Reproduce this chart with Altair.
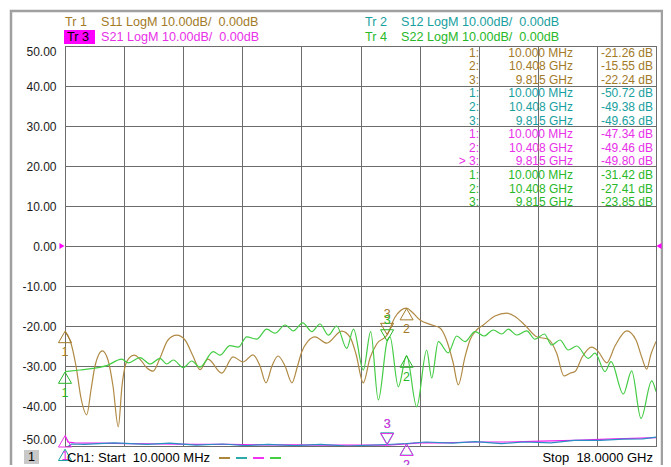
import altair as alt
import pandas as pd

FONT = "Liberation Sans"
NB = "\u00a0"

# ---------------- data (GHz, dB) ----------------
s11_f = [0.01, 0.162, 0.345, 0.497, 0.671, 0.801, 0.923, 1.145, 1.319, 1.471, 1.632, 1.745, 1.888,
         2.116, 2.293, 2.506, 2.689, 2.902, 3.145, 3.410, 3.663, 3.906, 4.119, 4.363, 4.780, 5.124,
         5.428, 5.733, 5.946, 6.128, 6.311, 6.494, 6.707, 6.920, 7.072, 7.215, 7.407, 7.620, 7.976,
         8.433, 8.686, 8.868, 9.090, 9.294, 9.498, 9.815, 10.055, 10.408, 10.573, 10.816, 11.120,
         11.425, 11.600, 11.820, 11.982, 12.186, 12.338, 12.540, 12.743, 13.099, 13.455, 13.708,
         14.012, 14.368, 14.721, 14.977, 15.200, 15.382, 15.534, 15.757, 16.043, 16.244, 16.500,
         16.752, 17.108, 17.391, 17.574, 17.717, 17.848, 18.0]
s11_db = [-21.26, -23.5, -30.0, -38.0, -42.2, -36.0, -30.0, -26.2, -28.5, -35.0, -45.2, -35.0, -28.9,
          -27.3, -28.3, -30.5, -31.3, -28.0, -23.5, -22.3, -23.5, -27.5, -30.9, -28.3, -31.8, -27.7,
          -29.0, -27.2, -30.0, -34.2, -30.0, -27.5, -30.0, -34.2, -30.5, -26.5, -23.8, -22.7, -24.3,
          -21.3, -22.8, -27.0, -34.2, -28.0, -24.5, -22.24, -17.8, -15.55, -16.5, -18.5, -19.6,
          -20.5, -23.0, -29.0, -34.7, -27.7, -23.5, -21.0, -19.75, -17.5, -16.8, -17.6,
          -19.8, -22.7, -23.3, -26.8, -32.5, -31.8, -31.4, -27.7, -25.3, -26.4, -29.2,
          -25.0, -21.2, -23.5, -28.0, -30.8, -27.0, -23.9]

s22_f = [0.01, 0.467, 0.862, 1.279, 1.736, 1.937, 2.293, 2.597, 2.902, 3.106, 3.307, 3.611, 3.867,
         4.119, 4.524, 4.728, 5.032, 5.285, 5.541, 5.845, 6.150, 6.402, 6.707, 6.959, 7.246, 7.520,
         7.772, 8.025, 8.281, 8.585, 8.792, 9.090, 9.315, 9.547, 9.815, 9.903, 10.156, 10.408,
         10.716, 11.020, 11.172, 11.373, 11.677, 11.933, 12.186, 12.490, 12.764, 13.047, 13.303,
         13.504, 13.759, 14.064, 14.317, 14.600, 14.825, 15.078, 15.330, 15.586, 15.939, 16.143,
         16.448, 16.630, 17.005, 17.260, 17.543, 17.869, 18.0]
s22_db = [-31.42, -31.0, -30.6, -29.9, -28.3, -29.2, -27.9, -29.5, -28.1, -29.5, -28.5, -30.4, -28.75,
          -30.3, -26.4, -27.3, -24.9, -25.3, -22.7, -23.3, -20.8, -21.8, -19.75, -21.2, -19.2, -21.4,
          -19.5, -22.3, -20.0, -25.6, -20.8, -31.0, -21.4, -38.5, -23.85, -22.7, -35.2, -27.41,
          -40.2, -26.0, -33.0, -23.9, -26.7, -22.5, -23.9, -21.4, -22.5, -21.0, -22.0,
          -20.8, -22.25, -21.2, -23.3, -22.0, -24.75, -23.5, -26.0, -25.0, -28.1, -26.8,
          -31.4, -28.9, -37.0, -31.2, -43.1, -33.7, -36.4]

s21_f = [0.01, 0.1, 0.3, 1.0, 2.0, 3.0, 4.0, 5.0, 6.0, 7.0, 8.0, 9.0, 9.815, 10.408, 10.8, 11.5,
         12.5, 13.5, 14.5, 15.5, 16.5, 17.3, 18.0]
s21_db = [-47.34, -49.0, -49.2, -49.3, -49.4, -49.5, -49.6, -49.6, -49.7, -49.7, -49.8, -49.8, -49.80,
          -49.46, -49.2, -49.2, -49.0, -49.0, -48.8, -48.6, -48.3, -48.1, -47.9]

s12_f = [0.01, 0.2, 0.6, 1.5, 2.5, 3.2, 4.0, 4.8, 5.5, 6.2, 7.0, 7.8, 8.6, 9.815, 10.408, 11.0, 11.8,
         12.5, 13.3, 14.0, 14.8, 15.5, 16.3, 17.0, 17.6, 18.0]
s12_db = [-50.72, -49.5, -49.6, -49.2, -49.6, -49.3, -49.8, -49.5, -49.9, -49.6, -49.9, -49.6, -50.0,
          -49.63, -49.38, -49.0, -49.3, -48.9, -49.4, -49.0, -49.2, -48.6, -48.6, -48.3, -48.2, -47.8]

traces = ["S11", "S12", "S21", "S22"]
line_colors = {"S11": "#b08a44", "S12": "#2a8fc4", "S21": "#f01cf0", "S22": "#44cc44"}
text_colors = {"S11": "#a27a28", "S12": "#18a0a0", "S21": "#e830e8", "S22": "#28b828"}
legend_colors = {"S11": "#a27a28", "S12": "#18a0a0", "S21": "#f01cf0", "S22": "#30c830"}

marker_nums = ["1", "2", "3"]
marker_f = [0.01, 10.408, 9.815]
marker_f_text = ["10.000 MHz", "10.408 GHz", "9.815 GHz"]
marker_vals = {
    "S11": [-21.26, -15.55, -22.24],
    "S12": [-50.72, -49.38, -49.63],
    "S21": [-47.34, -49.46, -49.80],
    "S22": [-31.42, -27.41, -23.85],
}
y_ticks = [-50, -40, -30, -20, -10, 0, 10, 20, 30, 40, 50]
x_start, x_stop = 0.01, 18.0

# ---------------- layout ----------------
X0, Y0 = 65, 46          # page position of plot origin
W, H = 591, 400

x_grid = [x_start + k * (x_stop - x_start) / 10 for k in range(11)]

xaxis = alt.Axis(values=x_grid, labels=False, ticks=False, domain=False, title=None,
                 grid=True, gridColor="#6c6c6c", gridWidth=1, gridOpacity=1)
yaxis = alt.Axis(values=y_ticks, ticks=False, domain=False, title=None, grid=True,
                 gridColor="#6c6c6c", gridWidth=1, gridOpacity=1,
                 labelExpr="replace(format(datum.value, '.2f'), '\u2212', '-')",
                 labelFlush=True, labelPadding=9, labelFont=FONT, labelFontSize=12,
                 labelColor="#1a1a1a")
xenc = alt.X("f:Q", scale=alt.Scale(domain=[x_start, x_stop], nice=False, zero=False), axis=xaxis)
yenc = alt.Y("db:Q", scale=alt.Scale(domain=[-50, 50], nice=False, zero=False), axis=yaxis)

one = pd.DataFrame({"a": [0]})


def txt(s, x, y, color, align="left", size=12):
    s = s.replace(" ", NB)
    return alt.Chart(pd.DataFrame({"t": [s]})).mark_text(
        align=align, baseline="middle", font=FONT, fontSize=size, color=color
    ).encode(x=alt.value(x - X0), y=alt.value(y - Y0), text="t:N")


def rect(x1, y1, x2, y2, **kw):
    return alt.Chart(one).mark_rect(**kw).encode(
        x=alt.value(x1 - X0), x2=alt.value(x2 - X0), y=alt.value(y1 - Y0), y2=alt.value(y2 - Y0))


def hrule(x1, x2, y, color):
    return alt.Chart(one).mark_rule(color=color, strokeWidth=1.8).encode(
        x=alt.value(x1 - X0), x2=alt.value(x2 - X0), y=alt.value(y - Y0))


layers = []
# window frame
layers.append(rect(11, 11, 662, 490, fillOpacity=0, stroke="#a0a0a0", strokeWidth=2.5))

# traces
series = {"S11": (s11_f, s11_db, "monotone"), "S21": (s21_f, s21_db, "linear"),
          "S12": (s12_f, s12_db, "linear"), "S22": (s22_f, s22_db, "monotone")}
for name in ["S11", "S21", "S12", "S22"]:
    fs, ds, interp = series[name]
    d = pd.DataFrame({"f": fs, "db": ds})
    layers.append(alt.Chart(d).mark_line(clip=True, strokeWidth=1.2, interpolate=interp,
                                         color=line_colors[name]).encode(x=xenc, y=yenc))

# markers
mrows = []
for name in ["S11", "S12", "S22", "S21"]:
    for n, f, v in zip(marker_nums, marker_f, marker_vals[name]):
        mrows.append({"trace": name, "num": n, "f": f, "db": v})
mdf = pd.DataFrame(mrows)
cenc = alt.Color("trace:N", scale=alt.Scale(domain=traces, range=[text_colors[t] for t in traces]),
                 legend=None)
up = alt.Chart(mdf).transform_filter("datum.num != '3'")
dn = alt.Chart(mdf).transform_filter("datum.num == '3'")
layers.append(up.mark_point(shape="triangle-up", filled=False, size=170, strokeWidth=1,
                            yOffset=6, opacity=1).encode(x=xenc, y=yenc, color=cenc))
layers.append(up.mark_text(yOffset=21, font=FONT, fontSize=12.5).encode(
    x=xenc, y=yenc, text="num:N", color=cenc))
layers.append(dn.mark_point(shape="triangle-down", filled=False, size=170, strokeWidth=1,
                            yOffset=-6, opacity=1).encode(x=xenc, y=yenc, color=cenc))
layers.append(dn.mark_text(yOffset=-21, font=FONT, fontSize=12.5).encode(
    x=xenc, y=yenc, text="num:N", color=cenc))

# reference level triangles (0.00 dB)
ref = pd.DataFrame({"db": [0.0]})
layers.append(alt.Chart(ref).mark_point(shape="triangle-right", filled=True, size=35,
                                        color="#ff00ff", opacity=1).encode(
    x=alt.value(-3), y=alt.Y("db:Q", scale=alt.Scale(domain=[-50, 50], nice=False, zero=False),
                             axis=yaxis)))
layers.append(alt.Chart(ref).mark_point(shape="triangle-left", filled=True, size=35,
                                        color="#ff00ff", opacity=1).encode(
    x=alt.value(W + 3), y=alt.Y("db:Q", scale=alt.Scale(domain=[-50, 50], nice=False, zero=False),
                                axis=yaxis)))

# header lines
HS = 12.6
layers.append(txt("Tr 1", 65, 22, text_colors["S11"], size=HS))
layers.append(txt("S11 LogM 10.00dB/  0.00dB", 101, 22, text_colors["S11"], size=HS))
layers.append(txt("Tr 2", 365, 22, text_colors["S12"], size=HS))
layers.append(txt("S12 LogM 10.00dB/  0.00dB", 401, 22, text_colors["S12"], size=HS))
layers.append(rect(64, 30, 95, 44, color="#ff00ff"))
layers.append(txt("Tr 3", 67, 37, "#000000", size=HS))
layers.append(txt("S21 LogM 10.00dB/  0.00dB", 101, 37, text_colors["S21"], size=HS))
layers.append(txt("Tr 4", 365, 37, text_colors["S22"], size=HS))
layers.append(txt("S22 LogM 10.00dB/  0.00dB", 401, 37, text_colors["S22"], size=HS))

# marker table
row = 0
for name in ["S11", "S12", "S21", "S22"]:
    for i, n in enumerate(marker_nums):
        y = 52.5 + row * 13.6
        c = text_colors[name]
        lab = n + ":"
        if name == "S21" and n == "3":
            lab = "> " + lab
        layers.append(txt(lab, 479, y, c, align="right"))
        layers.append(txt(marker_f_text[i], 573, y, c, align="right"))
        layers.append(txt("%.2f dB" % marker_vals[name][i], 653, y, c, align="right"))
        row += 1

# bottom status line
layers.append(rect(24, 450, 39, 464, color="#c8c8c8"))
layers.append(txt("1", 31.5, 457, "#000000", align="center", size=12.5))
layers.append(txt("Ch1: Start  10.0000 MHz", 67, 458, "#000000", size=13))
dash_x = [219, 236, 253, 270]
for name, x1 in zip(traces, dash_x):
    layers.append(hrule(x1, x1 + 11, 458, legend_colors[name]))
layers.append(txt("Stop  18.0000 GHz", 653, 458, "#000000", align="right", size=13))

chart = alt.layer(*layers).properties(
    width=W, height=H,
    padding={"left": X0 - 8, "top": Y0 - 8, "right": 7, "bottom": 19},
    autosize=alt.AutoSizeParams(type="none"),
    background="white",
).configure_view(stroke="#4a4a4a", strokeWidth=1)

chart.save("out.html", embed_options={"renderer": "svg", "actions": False})
